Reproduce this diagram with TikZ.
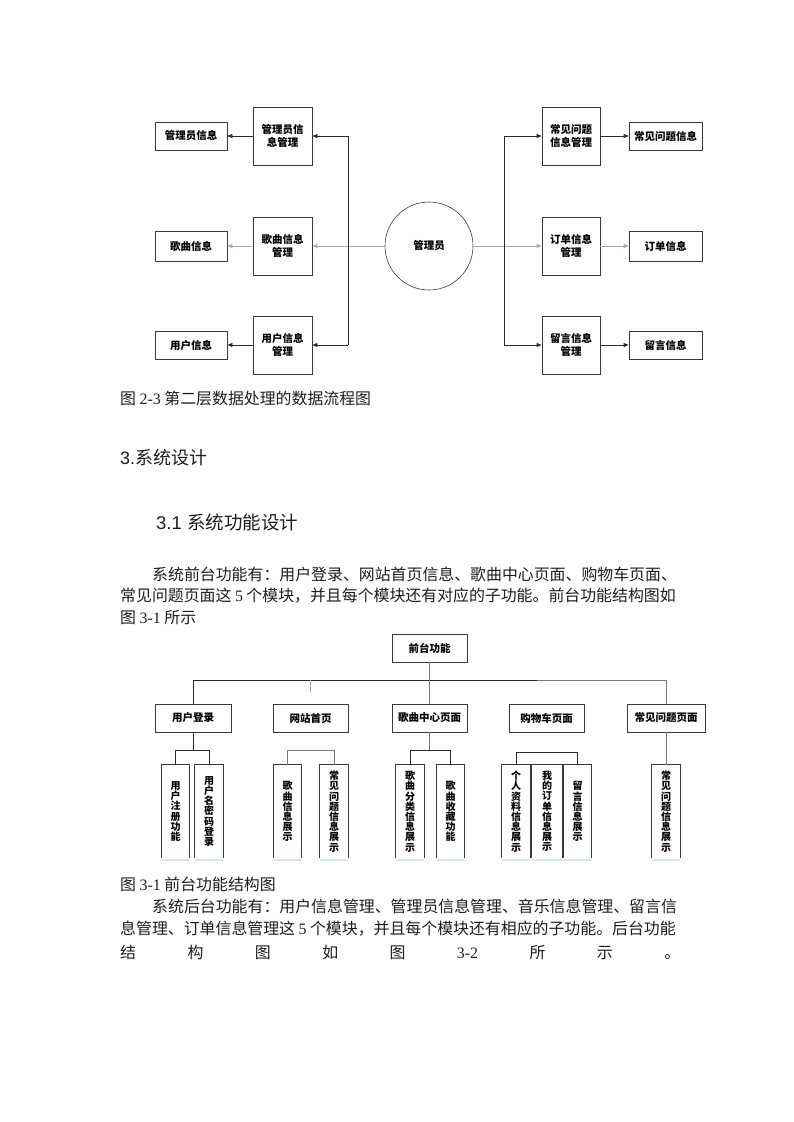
\documentclass[tikz,border=0pt]{standalone}
\usepackage{fontspec}
\setmainfont{Noto Sans CJK SC}
\newfontfamily\tnr{Liberation Serif}
\newfontfamily\arl{Liberation Sans}
\usetikzlibrary{arrows.meta}
\definecolor{boxc}{HTML}{3A3A3A}
\definecolor{lined}{HTML}{2A2A2A}
\definecolor{lineg}{HTML}{A8A8A8}
\definecolor{linem}{HTML}{7A7A7A}
\definecolor{txt}{HTML}{1E1E1E}
\definecolor{hl}{HTML}{D6E6F5}
\newcommand\dfont{\fontsize{10.5}{13}\selectfont\bfseries}
\newcommand\lfont{\fontsize{10}{10.2}\selectfont\bfseries}
\newcommand\pfont{\fontsize{15.9}{22}\selectfont}
\newcommand\fv{\kern3.5pt{\tnr 5}\kern3.5pt}
\tikzset{
  dbox/.style={draw=boxc, line width=0.8pt, inner sep=0pt, align=center, font=\dfont},
  leaf/.style={inner sep=0pt, minimum width=28pt, minimum height=93pt, align=center, font=\lfont},
  leafside/.style={draw=boxc, line width=0.9pt},
  arrd/.style={draw=lined, line width=0.8pt, -{Triangle[length=5pt,width=4pt]}},
  arrg/.style={draw=lineg, line width=0.7pt, -{Triangle[length=5pt,width=4pt]}},
  lnd/.style={draw=lined, line width=0.8pt},
  lng/.style={draw=linem, line width=0.8pt},
  lnl/.style={draw=lineg, line width=0.7pt},
  ptext/.style={anchor=west, inner sep=0pt, text=txt, font=\pfont},
}
\begin{document}
\begin{tikzpicture}[x=1pt,y=-1pt]
\useasboundingbox (0,0) rectangle (793,1122);
\fill[white] (0,0) rectangle (793,1122);

% ---------- data flow diagram ----------
\node[circle, draw=boxc, line width=0.6pt, minimum size=88pt, inner sep=0pt, font=\dfont] (admin) at (429,246) {管理员};

\node[dbox, minimum width=59pt, minimum height=58pt] (amgmt) at (282.5,136) {管理员信\\息管理};
\node[dbox, minimum width=59pt, minimum height=58pt] (smgmt) at (282.5,246) {歌曲信息\\管理};
\node[dbox, minimum width=59pt, minimum height=58pt] (umgmt) at (282.5,345) {用户信息\\管理};
\node[dbox, minimum width=72pt, minimum height=28pt] (ainfo) at (191,136) {管理员信息};
\node[dbox, minimum width=72pt, minimum height=30pt] (sinfo) at (191,246) {歌曲信息};
\node[dbox, minimum width=72pt, minimum height=28pt] (uinfo) at (191,345) {用户信息};

\node[dbox, minimum width=58pt, minimum height=58pt] (fmgmt) at (571,136) {常见问题\\信息管理};
\node[dbox, minimum width=58pt, minimum height=58pt] (omgmt) at (571,246) {订单信息\\管理};
\node[dbox, minimum width=58pt, minimum height=58pt] (mmgmt) at (571,345) {留言信息\\管理};
\node[dbox, minimum width=73pt, minimum height=28pt] (finfo) at (665.5,136) {常见问题信息};
\node[dbox, minimum width=73pt, minimum height=30pt] (oinfo) at (665.5,246) {订单信息};
\node[dbox, minimum width=73pt, minimum height=28pt] (minfo) at (665.5,345) {留言信息};

\coordinate (LX) at (348,246);
\coordinate (RX) at (504,246);
\draw[arrg] (admin.west) -- (smgmt.east);
\draw[lnd] (LX |- amgmt.east) -- (LX |- umgmt.east);
\draw[arrd] (LX |- amgmt.east) -- (amgmt.east);
\draw[arrd] (LX |- umgmt.east) -- (umgmt.east);
\draw[arrd] (amgmt.west) -- (ainfo.east);
\draw[arrg] (smgmt.west) -- (sinfo.east);
\draw[arrd] (umgmt.west) -- (uinfo.east);

\draw[arrg] (admin.east) -- (omgmt.west);
\draw[lnd] (RX |- fmgmt.west) -- (RX |- mmgmt.west);
\draw[arrd] (RX |- fmgmt.west) -- (fmgmt.west);
\draw[arrd] (RX |- mmgmt.west) -- (mmgmt.west);
\draw[arrd] (fmgmt.east) -- (finfo.west);
\draw[arrg] (omgmt.east) -- (oinfo.west);
\draw[arrd] (mmgmt.east) -- (minfo.west);

% ---------- texts ----------
\node[ptext] (cap1) at (120,398) {图 {\tnr 2-3} 第二层数据处理的数据流程图};
\node[ptext, font=\fontsize{18}{22}\selectfont] (h1) at (120,458) {{\arl 3.}系统设计};
\node[ptext, font=\fontsize{18.5}{22}\selectfont] (h2) at (156,522) {{\arl 3.1 }系统功能设计};
\node[ptext] (p1a) at (152,574) {系统前台功能有：用户登录、网站首页信息、歌曲中心页面、购物车页面、};
\node[ptext] (p1b) at (120,596) {常见问题页面这\fv 个模块，并且每个模块还有对应的子功能。前台功能结构图如};
\node[ptext] (p1c) at (120,618) {图 {\tnr 3-1} 所示};

% ---------- structure tree ----------
\node[dbox, minimum width=75pt, minimum height=28pt] (root) at (429.5,648) {前台功能};
\node[dbox, minimum width=76pt, minimum height=28pt] (q1) at (193,718) {用户登录};
\node[dbox, minimum width=75pt, minimum height=28pt] (q2) at (310.5,718) {网站首页};
\node[dbox, minimum width=75pt, minimum height=28pt] (q3) at (429.5,718) {歌曲中心页面};
\node[dbox, minimum width=75pt, minimum height=28pt] (q4) at (546.5,718) {购物车页面};
\node[dbox, minimum width=78pt, minimum height=28pt] (q5) at (666,718) {常见问题页面};

\node[leaf] (l11) at (175.5,811.5) {用\\户\\注\\册\\功\\能};
\node[leaf] (l12) at (209,811.5) {用\\户\\名\\密\\码\\登\\录};
\node[leaf] (l21) at (287.5,811.5) {歌\\曲\\信\\息\\展\\示};
\node[leaf] (l22) at (334,811.5) {常\\见\\问\\题\\信\\息\\展\\示};
\node[leaf] (l31) at (410,811.5) {歌\\曲\\分\\类\\信\\息\\展\\示};
\node[leaf] (l32) at (450.5,811.5) {歌\\曲\\收\\藏\\功\\能};
\node[leaf] (l41) at (516,811.5) {个\\人\\资\\料\\信\\息\\展\\示};
\node[leaf, minimum width=30pt] (l42) at (547,811.5) {我\\的\\订\\单\\信\\息\\展\\示};
\node[leaf] (l43) at (577.5,811.5) {留\\言\\信\\息\\展\\示};
\node[leaf] (l51) at (666,811.5) {常\\见\\问\\题\\信\\息\\展\\示};

\foreach \n in {l11,l12,l21,l22,l31,l32,l41,l42,l43,l51}{
  \draw[leafside] (\n.south west) |- (\n.north east) -- (\n.south east);
  \fill[hl] ([yshift=-1pt]\n.south west) rectangle ([yshift=-3pt]\n.south east);
}

\coordinate (bar) at (0,680);
\coordinate (br) at (0,750);
\coordinate (brb) at (0,752);
\coordinate (mid) at (537,680);
\draw[lnd] (q1.north) -- (q1.north |- bar) -- (mid);
\draw[lng] (mid) -- (q5.north |- bar) -- (q5.north);
\draw[lng] (root.south) -- (q3.north);
\draw[lnl] (q2.north |- bar) -- ++(0,12);

\draw[lnd] (q1.south) -- (q1.south |- br);
\draw[lnd] (l11.north) -- (l11.north |- br) -- (l12.north |- br) -- (l12.north);
\draw[lng] (l21.north) -- (l21.north |- br) -- (l22.north |- br) -- (l22.north);
\draw[lng] (q3.south) -- (q3.south |- br);
\draw[lnd] (l31.north) -- (l31.north |- br) -- (l32.north |- br) -- (l32.north);
\draw[lnd] (l41.north) -- (l41.north |- brb) -- (l43.north |- brb) -- (l43.north);
\draw[lng] (q5.south) -- (l51.north);

% ---------- texts below ----------
\node[ptext] (cap2) at (120,884) {图 {\tnr 3-1} 前台功能结构图};
\node[ptext] (p2a) at (152,906) {系统后台功能有：用户信息管理、管理员信息管理、音乐信息管理、留言信};
\node[ptext] (p2b) at (120,929) {息管理、订单信息管理这\fv 个模块，并且每个模块还有相应的子功能。后台功能};
\node[ptext] (p2c) at (120,952) {\hbox to 560pt{结\hfill 构\hfill 图\hfill 如\hfill 图\hfill {\tnr 3-2}\hfill 所\hfill 示\hfill 。}};
\end{tikzpicture}
\end{document}
